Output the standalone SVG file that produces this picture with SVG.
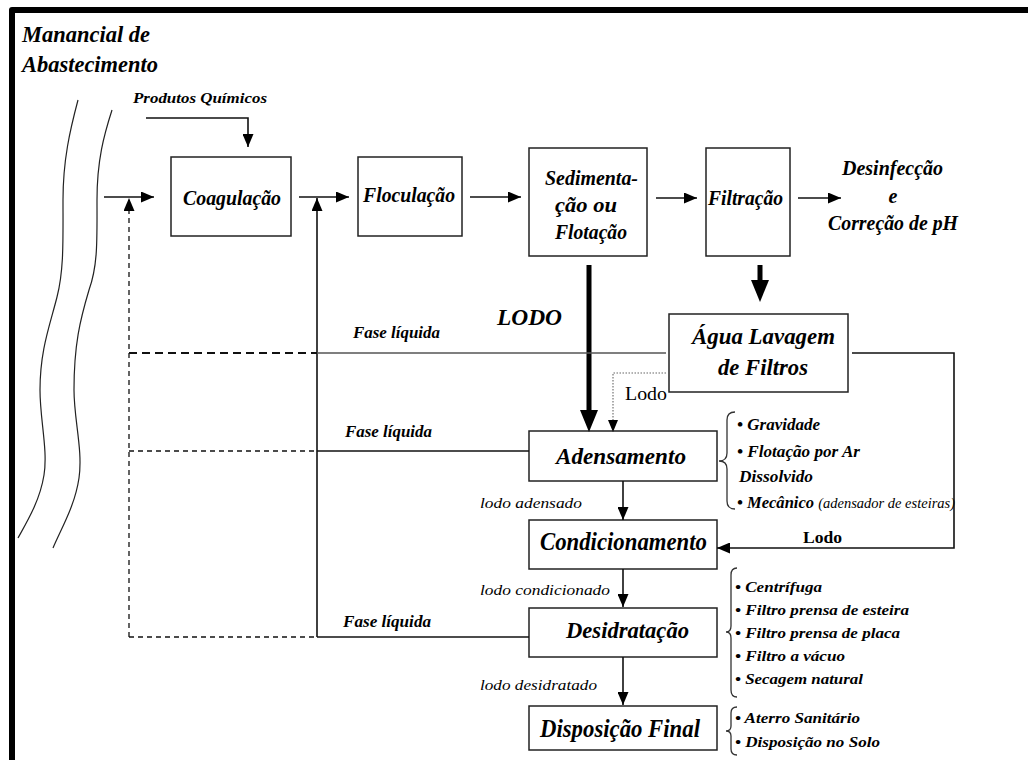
<svg xmlns="http://www.w3.org/2000/svg" width="1028" height="760" viewBox="0 0 1028 760" font-family="'Liberation Serif', 'Times New Roman', Times, serif">
<defs>
<style>
.t{font-style:italic;font-weight:bold;fill:#000}
.n{font-weight:normal}
.u{font-style:normal}
.box{fill:#fff;stroke:#222;stroke-width:1.5}
.ln{fill:none;stroke:#111;stroke-width:1.6}
.gr{fill:none;stroke:#555;stroke-width:1.6}
.dsh{fill:none;stroke:#111;stroke-width:1.3;stroke-dasharray:5 4}
.dshb{fill:none;stroke:#111;stroke-width:2.2;stroke-dasharray:8 5}
.dot{fill:none;stroke:#666;stroke-width:1.1;stroke-dasharray:1.5 1.5}
.thk{fill:none;stroke:#000;stroke-width:5}
.brace{fill:none;stroke:#333;stroke-width:1.3}
.river{fill:none;stroke:#222;stroke-width:1.2}
</style>
<marker id="arr" markerUnits="userSpaceOnUse" markerWidth="13" markerHeight="11" refX="13" refY="5.5" orient="auto"><path d="M0,0L13,5.5L0,11z" fill="#000"/></marker>
<marker id="big" markerUnits="userSpaceOnUse" markerWidth="22" markerHeight="18" refX="4" refY="9" orient="auto"><path d="M0,0L22,9L0,18z" fill="#000"/></marker>
</defs>
<rect width="1028" height="760" fill="#fff"/>
<path d="M12,760 L12,10 L1028,10" fill="none" stroke="#000" stroke-width="6" stroke-linejoin="round"/>

<g id="manancial">
<text class="t" x="22" y="42" font-size="24" textLength="128" lengthAdjust="spacingAndGlyphs">Manancial de</text>
<text class="t" x="22" y="72" font-size="24" textLength="136" lengthAdjust="spacingAndGlyphs">Abastecimento</text>
<path class="river" d="M78,100 C70,130 63,160 63,200 C63,240 64,270 57,297 C50,325 40,350 40,390 C40,420 48,450 44,475 C40,500 28,520 18,538"/>
<path class="river" d="M112,110 C104,135 97,160 97,200 C97,240 98,265 89,290 C80,320 74,345 74,390 C74,420 83,450 79,478 C75,505 63,525 53,548"/>
</g>

<g id="produtos">
<text class="t" x="133" y="103" font-size="15" textLength="134" lengthAdjust="spacingAndGlyphs">Produtos Químicos</text>
</g>

<g id="coagulacao">
<rect class="box" x="171" y="157" width="120" height="79"/>
<text class="t" x="183" y="205" font-size="21" textLength="98" lengthAdjust="spacingAndGlyphs">Coagulação</text>
</g>
<g id="floculacao">
<rect class="box" x="358" y="157" width="104" height="79"/>
<text class="t" x="363" y="202" font-size="21" textLength="92" lengthAdjust="spacingAndGlyphs">Floculação</text>
</g>
<g id="sedimentacao">
<rect class="box" x="529" y="148" width="118" height="108"/>
<text class="t" x="545" y="185" font-size="20" textLength="93" lengthAdjust="spacingAndGlyphs">Sedimenta-</text>
<text class="t" x="555" y="212" font-size="20" textLength="62" lengthAdjust="spacingAndGlyphs">ção ou</text>
<text class="t" x="555" y="239" font-size="20" textLength="72" lengthAdjust="spacingAndGlyphs">Flotação</text>
</g>
<g id="filtracao">
<rect class="box" x="706" y="148" width="84" height="108"/>
<text class="t" x="708" y="205" font-size="20" textLength="75" lengthAdjust="spacingAndGlyphs">Filtração</text>
</g>
<g id="desinfeccao">
<text class="t" x="842" y="175" font-size="20" textLength="101" lengthAdjust="spacingAndGlyphs">Desinfecção</text>
<text class="t" x="893" y="203" font-size="20" text-anchor="middle">e</text>
<text class="t" x="828" y="230" font-size="20" textLength="130" lengthAdjust="spacingAndGlyphs">Correção de pH</text>
</g>
<g id="agua-lavagem">
<rect class="box" x="669" y="314" width="179" height="78"/>
<text class="t" x="692" y="344" font-size="24" textLength="143" lengthAdjust="spacingAndGlyphs">Água Lavagem</text>
<text class="t" x="718" y="375" font-size="24" textLength="90" lengthAdjust="spacingAndGlyphs">de Filtros</text>
</g>
<g id="adensamento">
<rect class="box" x="529" y="431" width="188" height="50"/>
<text class="t" x="556" y="464" font-size="24" textLength="130" lengthAdjust="spacingAndGlyphs">Adensamento</text>
<path class="brace" d="M735,412 Q727,412 727,420 L727,453 Q727,461 719,461 Q727,461 727,469 L727,501 Q727,509 735,509"/>
<text class="t" x="737" y="430" font-size="16" textLength="83" lengthAdjust="spacingAndGlyphs">• Gravidade</text>
<text class="t" x="737" y="457" font-size="16" textLength="123" lengthAdjust="spacingAndGlyphs">• Flotação por Ar</text>
<text class="t" x="739" y="482" font-size="16" textLength="74" lengthAdjust="spacingAndGlyphs">Dissolvido</text>
<text class="t" x="737" y="508" font-size="16" textLength="218" lengthAdjust="spacingAndGlyphs">• Mecânico <tspan class="n" font-size="14">(adensador de esteiras)</tspan></text>
</g>
<g id="condicionamento">
<rect class="box" x="529" y="520" width="188" height="49"/>
<text class="t" x="540" y="550" font-size="25" textLength="167" lengthAdjust="spacingAndGlyphs">Condicionamento</text>
</g>
<g id="desidratacao">
<rect class="box" x="529" y="608" width="188" height="49"/>
<text class="t" x="566" y="638" font-size="23" textLength="123" lengthAdjust="spacingAndGlyphs">Desidratação</text>
<path class="brace" d="M737,568 Q731,568 731,575 L731,626 Q731,632 726,632 Q731,632 731,638 L731,690 Q731,697 737,697"/>
<text class="t" x="735" y="592" font-size="15" textLength="87" lengthAdjust="spacingAndGlyphs">• Centrífuga</text>
<text class="t" x="735" y="615" font-size="15" textLength="174" lengthAdjust="spacingAndGlyphs">• Filtro prensa de esteira</text>
<text class="t" x="735" y="638" font-size="15" textLength="165" lengthAdjust="spacingAndGlyphs">• Filtro prensa de placa</text>
<text class="t" x="735" y="661" font-size="15" textLength="110" lengthAdjust="spacingAndGlyphs">• Filtro a vácuo</text>
<text class="t" x="735" y="684" font-size="15" textLength="128" lengthAdjust="spacingAndGlyphs">• Secagem natural</text>
</g>
<g id="disposicao-final">
<rect class="box" x="529" y="706" width="188" height="44"/>
<text class="t" x="540" y="737" font-size="25" textLength="160" lengthAdjust="spacingAndGlyphs">Disposição Final</text>
<path class="brace" d="M737,707 Q731,707 731,713 L731,726 Q731,731 726,731 Q731,731 731,736 L731,749 Q731,755 737,755"/>
<text class="t" x="735" y="723" font-size="15" textLength="125" lengthAdjust="spacingAndGlyphs">• Aterro Sanitário</text>
<text class="t" x="735" y="747" font-size="15" textLength="145" lengthAdjust="spacingAndGlyphs">• Disposição no Solo</text>
</g>

<g id="connectors">
<path class="ln" d="M146,118 L248,118 L248,147" marker-end="url(#arr)"/>
<path class="ln" d="M104,197 L154,197" marker-end="url(#arr)"/>
<path class="ln" d="M299,197 L349,197" marker-end="url(#arr)"/>
<path class="ln" d="M470,197 L521,197" marker-end="url(#arr)"/>
<path class="ln" d="M656,198 L697,198" marker-end="url(#arr)"/>
<path class="ln" d="M798,198 L841,198" marker-end="url(#arr)"/>
<path class="thk" d="M589,265 L589,414" marker-end="url(#big)"/>
<path class="thk" d="M760,265 L760,284" marker-end="url(#big)"/>
<path class="ln" d="M317,637 L317,198" marker-end="url(#arr)"/>
<path class="dsh" d="M129,637 L129,198" marker-end="url(#arr)"/>
<path class="dshb" d="M129,353 L317,353"/>
<path class="gr" d="M317,353 L666,353"/>
<path class="dsh" d="M129,451 L317,451"/>
<path class="ln" d="M317,451 L529,451"/>
<path class="dsh" d="M129,637 L317,637"/>
<path class="ln" d="M317,637 L529,637"/>
<path class="dot" d="M666,373 L613,373 L613,422"/>
<path d="M608,420 L618,420 L613,432z" fill="#000"/>
<path class="ln" d="M852,353 L954,353 L954,548 L717,548" marker-end="url(#arr)"/>
<path class="ln" d="M623,481 L623,520" marker-end="url(#arr)"/>
<path class="ln" d="M623,569 L623,607" marker-end="url(#arr)"/>
<path class="ln" d="M623,657 L623,705" marker-end="url(#arr)"/>
</g>

<g id="labels">
<text class="t" x="497" y="325" font-size="23" textLength="65" lengthAdjust="spacingAndGlyphs">LODO</text>
<text class="t" x="353" y="338" font-size="16" textLength="87" lengthAdjust="spacingAndGlyphs">Fase líquida</text>
<text class="t" x="345" y="437" font-size="16" textLength="87" lengthAdjust="spacingAndGlyphs">Fase líquida</text>
<text class="t" x="343" y="627" font-size="16" textLength="88" lengthAdjust="spacingAndGlyphs">Fase líquida</text>
<text class="t n u" x="625" y="400" font-size="19" textLength="42" lengthAdjust="spacingAndGlyphs">Lodo</text>
<text class="t u" x="803" y="543" font-size="17" textLength="39" lengthAdjust="spacingAndGlyphs">Lodo</text>
<text class="t n" x="480" y="508" font-size="15" textLength="102" lengthAdjust="spacingAndGlyphs">lodo adensado</text>
<text class="t n" x="480" y="595" font-size="15" textLength="130" lengthAdjust="spacingAndGlyphs">lodo condicionado</text>
<text class="t n" x="480" y="690" font-size="15" textLength="117" lengthAdjust="spacingAndGlyphs">lodo desidratado</text>
</g>
</svg>
